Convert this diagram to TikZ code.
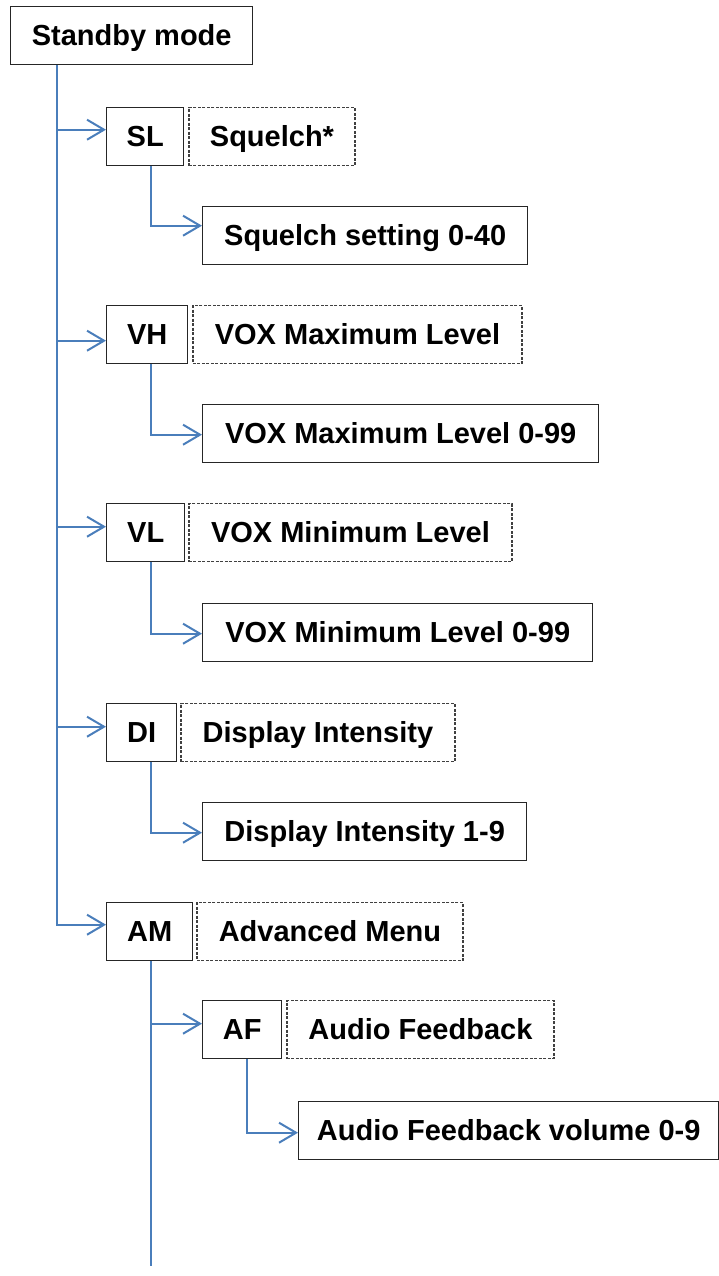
\documentclass[tikz,border=0pt]{standalone}
\usepackage{fontspec}
\setmainfont{Liberation Sans}
\usetikzlibrary{positioning,arrows.meta}
\definecolor{linkblue}{HTML}{4A7EBB}
\tikzstyle{box} = [draw=black!85, line width=1.4pt, rectangle, minimum height=58pt, inner sep=0pt, text height=21pt, text depth=2pt, font=\fontsize{29}{34}\selectfont\bfseries, anchor=north west]
\tikzstyle{boxd} = [box, draw=black!75, line width=1.1pt, dash pattern=on 3pt off 1.5pt]
\tikzstyle{link} = [draw=linkblue, line width=2pt, -{Straight Barb[length=17pt,width=20pt]}]
\tikzstyle{trunk} = [draw=linkblue, line width=2pt]

\begin{document}
\begin{tikzpicture}[x=1pt,y=-1pt]
		\useasboundingbox (0,0) rectangle (719,1276);
		\node (standby) [box, minimum width=242pt] at (10,6) {Standby mode};
		
		\node (sl) [box, minimum width=77pt] at (106,107) {SL};
		\node (sld) [boxd, minimum width=166pt, right=4pt of sl] {Squelch*};
		\node (sls) [box, minimum width=325pt] at (202,206) {Squelch setting 0-40};
		
		\node (vh) [box, minimum width=81pt] at (106,305) {VH};
		\node (vhd) [boxd, minimum width=329pt, right=4pt of vh] {VOX Maximum Level};
		\node (vhs) [box, minimum width=396pt] at (202,404) {VOX Maximum Level 0-99};
		
		\node (vl) [box, minimum width=78pt] at (106,503) {VL};
		\node (vld) [boxd, minimum width=323pt, right=3pt of vl] {VOX Minimum Level};
		\node (vls) [box, minimum width=390pt] at (202,603) {VOX Minimum Level 0-99};
		
		\node (di) [box, minimum width=70pt] at (106,703) {DI};
		\node (did) [boxd, minimum width=274pt, right=3pt of di] {Display Intensity};
		\node (dis) [box, minimum width=324pt] at (202,802) {Display Intensity 1-9};
		
		\node (am) [box, minimum width=86pt] at (106,902) {AM};
		\node (amd) [boxd, minimum width=266pt, right=3pt of am] {Advanced Menu};
		
		\node (af) [box, minimum width=79pt] at (202,1000) {AF};
		\node (afd) [boxd, minimum width=267pt, right=4pt of af] {Audio Feedback};
		\node (afs) [box, minimum width=420pt] at (298,1101) {Audio Feedback volume 0-9};
		
		\coordinate (root) at ([xshift=47pt]standby.south west);
		\coordinate (amend) at (151,1266);
		
		\draw [link] (root) |- ([yshift=7pt]sl.west);
		\draw [link] (root) |- ([yshift=-6pt]vh.west);
		\draw [link] (root) |- ([yshift=6pt]vl.west);
		\draw [link] (root) |- ([yshift=6pt]di.west);
		\draw [link] (root) |- ([yshift=7pt]am.west);
		
		\draw [link] ([xshift=45pt]sl.south west) |- ([yshift=10pt]sls.west);
		\draw [link] ([xshift=45pt]vh.south west) |- ([yshift=-1pt]vhs.west);
		\draw [link] ([xshift=45pt]vl.south west) |- ([yshift=-1pt]vls.west);
		\draw [link] ([xshift=45pt]di.south west) |- ([yshift=-1pt]dis.west);
		
		\draw [trunk] ([xshift=45pt]am.south west) -- (amend);
		\draw [link] ([xshift=45pt]am.south west) |- ([yshift=6pt]af.west);
		\draw [link] ([xshift=45pt]af.south west) |- ([yshift=-2pt]afs.west);
	\end{tikzpicture}
\end{document}
